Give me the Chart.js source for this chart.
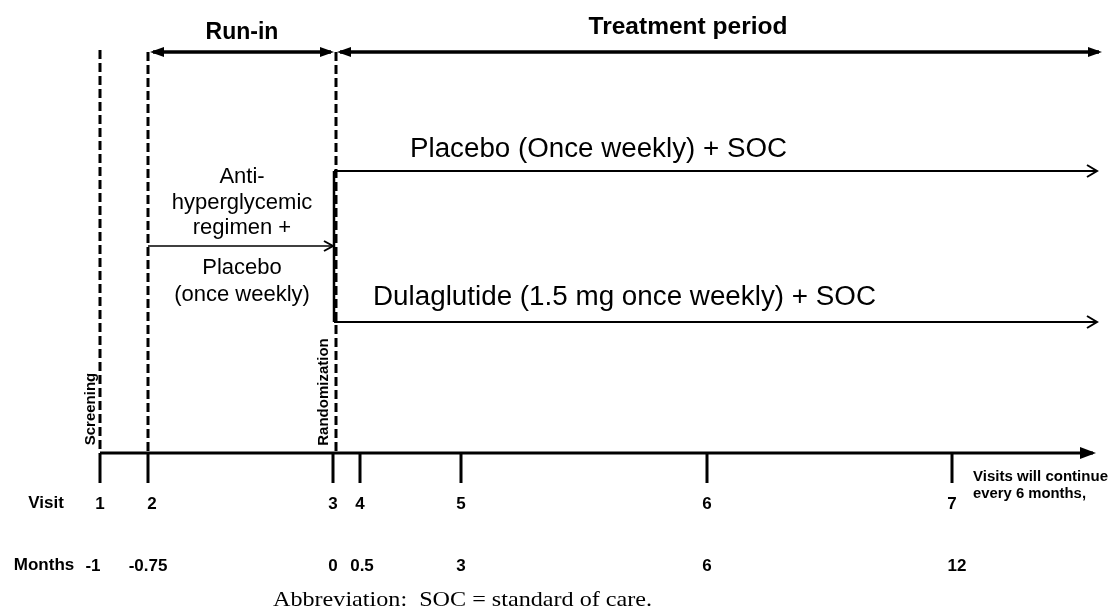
<!DOCTYPE html>
<html><head><meta charset="utf-8">
<script src="https://cdn.jsdelivr.net/npm/chart.js@4/dist/chart.umd.min.js"></script>
<style>html,body{margin:0;padding:0;background:#fff;}canvas{display:block;}</style>
</head><body>
<canvas id="c" width="1109" height="609"></canvas>
<script>
// ---- Data (schematic timeline) ----
const visitLabels = ['1', '2', '3', '4', '5', '6', '7'];
const monthLabels = ['-1', '-0.75', '0', '0.5', '3', '6', '12'];
// position of each visit on the (non-linear) schematic time axis, in schematic units
const visitPos = [100, 148, 333, 360, 461, 707, 952];
const monthLabelPos = [93, 148, 333, 362, 461, 707, 957];
const periodLabels = ['Run-in', 'Treatment period'];
const armLabels = ['Placebo (Once weekly) + SOC', 'Dulaglutide (1.5 mg once weekly) + SOC'];
const runInLabels = ['Anti-', 'hyperglycemic', 'regimen +', 'Placebo', '(once weekly)'];
const milestoneLabels = ['Screening', 'Randomization'];
const noteLabels = ['Visits will continue', 'every 6 months,'];
const footnote = 'Abbreviation:  SOC = standard of care.';

// ---- Layout (schematic units, both axes 0..canvas size) ----
const AXIS_Y = 453, TICK_BOTTOM = 483, TOP_Y = 52, END_X = 1097;
const ARM_Y = [171, 322], RUNIN_ARROW_Y = 246;

function seg(x1, y1, x2, y2, extra) {
  return Object.assign({
    data: [{x: x1, y: y1}, {x: x2, y: y2}],
    showLine: true, pointRadius: 0, borderColor: '#000', borderWidth: 2,
    fill: false, tension: 0
  }, extra || {});
}

const datasets = [];
// timeline axis
datasets.push(seg(visitPos[0], AXIS_Y, END_X - 4, AXIS_Y, {borderWidth: 3, arrowEnd: 'filled', headLen: 13, headW: 6}));
// tick marks
visitPos.forEach(p => datasets.push(seg(p, AXIS_Y, p, TICK_BOTTOM, {borderWidth: 3})));
// dashed verticals: screening, run-in start, randomization
[[visitPos[0], 50], [visitPos[1], 52], [visitPos[2] + 3, 52]].forEach(([x, y0]) =>
  datasets.push(seg(x, y0, x, AXIS_Y, {borderWidth: 3, borderDash: [9, 4]})));
// period arrows
datasets.push(seg(visitPos[1] + 5, TOP_Y, visitPos[2] - 2, TOP_Y, {borderWidth: 3.5, arrowEnd: 'filled', arrowStart: 'filled', headLen: 11, headW: 5}));
datasets.push(seg(visitPos[2] + 7, TOP_Y, END_X + 2, TOP_Y, {borderWidth: 3.5, arrowEnd: 'filled', arrowStart: 'filled', headLen: 11, headW: 5}));
// randomization split
datasets.push(seg(visitPos[2] + 1, ARM_Y[0], visitPos[2] + 1, ARM_Y[1], {borderWidth: 2.5}));
ARM_Y.forEach(y => datasets.push(seg(visitPos[2] + 1, y, END_X, y, {borderWidth: 2, arrowEnd: 'open', headLen: 10, headW: 6})));
// run-in treatment arrow
datasets.push(seg(visitPos[1], RUNIN_ARROW_Y, visitPos[2], RUNIN_ARROW_Y, {borderWidth: 1.5, arrowEnd: 'open', headLen: 9, headW: 5}));

const arrowPlugin = {
  id: 'arrows',
  afterDatasetsDraw(chart) {
    const ctx = chart.ctx;
    chart.data.datasets.forEach((ds, i) => {
      const pts = chart.getDatasetMeta(i).data;
      if (!pts.length) return;
      const draw = (tip, from, type) => {
        const a = Math.atan2(tip.y - from.y, tip.x - from.x);
        const L = ds.headLen, W = ds.headW;
        const bx = tip.x - L * Math.cos(a), by = tip.y - L * Math.sin(a);
        const px = -Math.sin(a) * W, py = Math.cos(a) * W;
        ctx.save();
        ctx.beginPath();
        ctx.moveTo(bx + px, by + py);
        ctx.lineTo(tip.x + (type === 'filled' ? 3 * Math.cos(a) : 0), tip.y + (type === 'filled' ? 3 * Math.sin(a) : 0));
        ctx.lineTo(bx - px, by - py);
        if (type === 'filled') { ctx.closePath(); ctx.fillStyle = '#000'; ctx.fill(); }
        else { ctx.strokeStyle = '#000'; ctx.lineWidth = 2; ctx.stroke(); }
        ctx.restore();
      };
      if (ds.arrowEnd) draw(pts[pts.length - 1], pts[0], ds.arrowEnd);
      if (ds.arrowStart) draw(pts[0], pts[pts.length - 1], ds.arrowStart);
    });
  }
};

const AR = 'Arial, "Liberation Sans", sans-serif';
const texts = [];
texts.push({t: periodLabels[0], x: 242, y: 33, f: 'bold 23px ' + AR});
texts.push({t: periodLabels[1], x: 688, y: 28, f: 'bold 23px "Liberation Sans Narrow", ' + AR, w: 199});
texts.push({t: armLabels[0], x: 410, y: 150, f: '27px ' + AR, a: 'left', w: 377});
texts.push({t: armLabels[1], x: 373, y: 298, f: '27px ' + AR, a: 'left', w: 503});
const runInY = [177, 203, 228, 268, 295];
runInLabels.forEach((t, i) => texts.push({t, x: 242, y: runInY[i], f: '22px ' + AR}));
texts.push({t: milestoneLabels[0], x: 91, y: 409, f: 'bold 15px ' + AR, r: true});
texts.push({t: milestoneLabels[1], x: 324, y: 392, f: 'bold 15px ' + AR, r: true});
texts.push({t: 'Visit', x: 46, y: 503, f: 'bold 17px ' + AR});
texts.push({t: 'Months', x: 44, y: 565, f: 'bold 17px ' + AR});
visitLabels.forEach((t, i) => texts.push({t, x: visitPos[i] + (i === 1 ? 4 : 0), y: 504, f: 'bold 17px ' + AR}));
monthLabels.forEach((t, i) => texts.push({t, x: monthLabelPos[i], y: 566, f: 'bold 17px ' + AR}));
texts.push({t: noteLabels[0], x: 973, y: 477, f: 'bold 14.5px ' + AR, a: 'left', w: 135});
texts.push({t: noteLabels[1], x: 973, y: 494, f: 'bold 14.5px ' + AR, a: 'left', w: 113});
texts.push({t: footnote, x: 273, y: 606, f: '22px "Liberation Serif", "Times New Roman", serif', a: 'left', b: 'alphabetic', w: 379});

const textPlugin = {
  id: 'texts',
  afterDraw(chart) {
    const ctx = chart.ctx, sx = chart.scales.x, sy = chart.scales.y;
    texts.forEach(o => {
      ctx.save();
      ctx.font = o.f; ctx.fillStyle = '#000';
      ctx.textAlign = o.a || 'center';
      ctx.textBaseline = o.b || 'middle';
      const px = sx.getPixelForValue(o.x), py = sy.getPixelForValue(o.y);
      ctx.translate(px, py);
      if (o.r) ctx.rotate(-Math.PI / 2);
      if (o.w) {
        const mw = ctx.measureText(o.t).width;
        ctx.scale(o.w / mw, 1);
      }
      ctx.fillText(o.t, 0, 0);
      ctx.restore();
    });
  }
};

new Chart(document.getElementById('c'), {
  type: 'scatter',
  data: {datasets},
  options: {
    responsive: false, animation: false,
    layout: {padding: 0},
    plugins: {legend: {display: false}, tooltip: {enabled: false}},
    scales: {
      x: {type: 'linear', min: 0, max: 1109, display: false},
      y: {type: 'linear', min: 0, max: 609, reverse: true, display: false}
    }
  },
  plugins: [arrowPlugin, textPlugin]
});
</script>
</body></html>
